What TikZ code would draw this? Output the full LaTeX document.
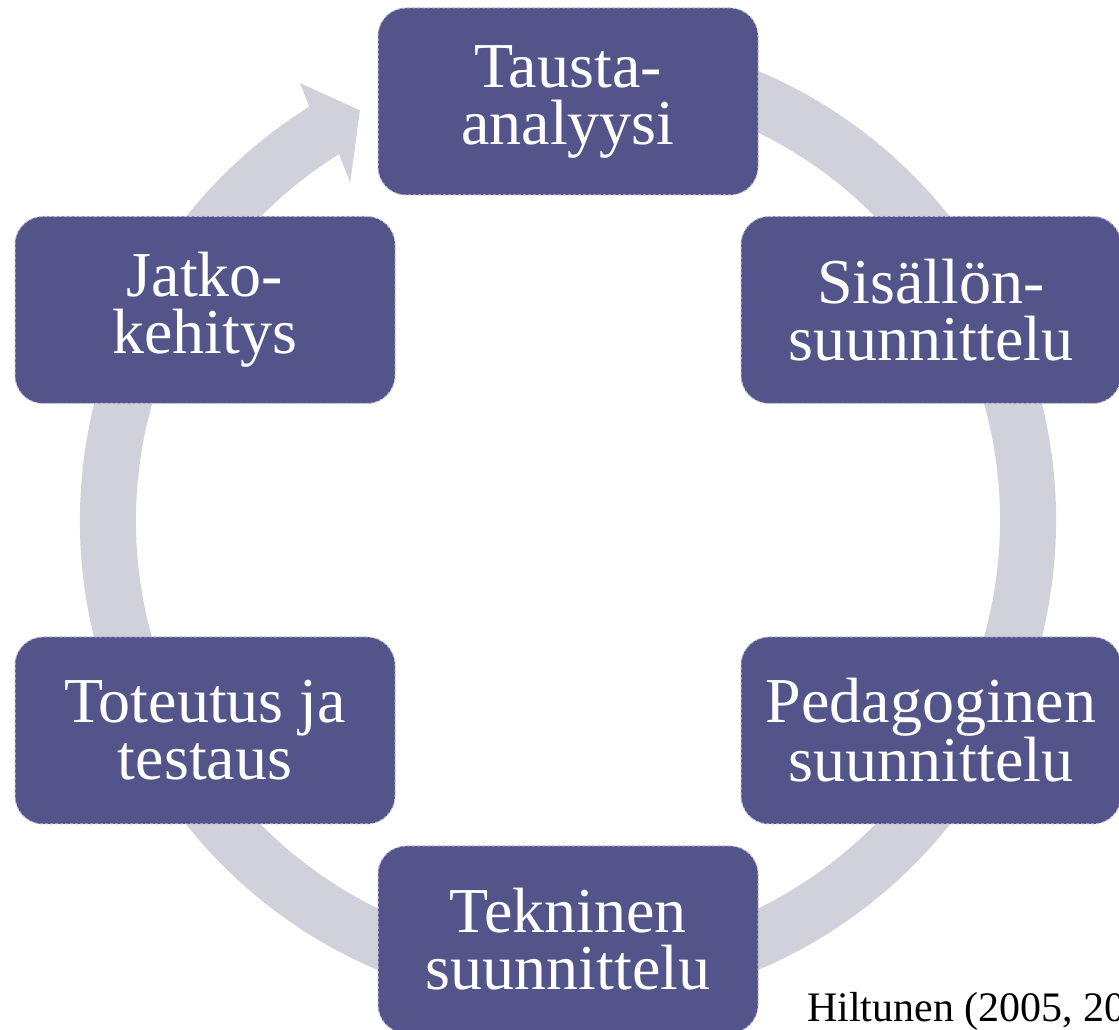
\documentclass[tikz,border=0pt]{standalone}
\usepackage{fontspec}
\setmainfont{Liberation Serif}
\definecolor{boxc}{RGB}{83,84,137}
\definecolor{ringc}{RGB}{208,209,218}
\definecolor{edgec}{RGB}{190,190,215}
\tikzset{
  stage/.style={draw=edgec, densely dashed, line width=1pt, fill=boxc, rounded corners=28pt,
    minimum width=380pt, minimum height=187pt, inner sep=0pt, align=center,
    text=white, font=\fontsize{64}{57}\selectfont},
  credit/.style={anchor=base west, inner sep=0pt, font=\fontsize{42}{45}\selectfont, text=black}
}
\begin{document}
\begin{tikzpicture}[x=1pt,y=1pt]
\useasboundingbox (0,0) rectangle (1119,1030);
\clip (0,0) rectangle (1119,1030);
\begin{scope}[shift={(568,509.5)}]
\fill[ringc] (80:488pt) arc[start angle=80, end angle=-238, radius=488pt]
  -- (-238.5:513pt) -- (-243.1:460pt) -- (-237.2:402pt) -- (-238:432pt)
  arc[start angle=-238, end angle=80, radius=432pt] -- cycle;
\end{scope}
\node[stage] (tausta) at (568,928.5) {Tausta-\\analyysi};
\node[stage] (sisallon) at (931,720) {Sisällön-\\suunnittelu};
\node[stage] (pedag) at (931,299.5) {Pedagoginen\\suunnittelu};
\node[stage] (tekn) at (568,90.5) {Tekninen\\suunnittelu};
\node[stage] (toteutus) at (205,299.5) {Toteutus ja\\testaus};
\node[stage] (jatko) at (205,720) {Jatko-\\kehitys};
\node[credit] (cite) at (807,8) {Hiltunen (2005, 20};
\end{tikzpicture}
\end{document}
